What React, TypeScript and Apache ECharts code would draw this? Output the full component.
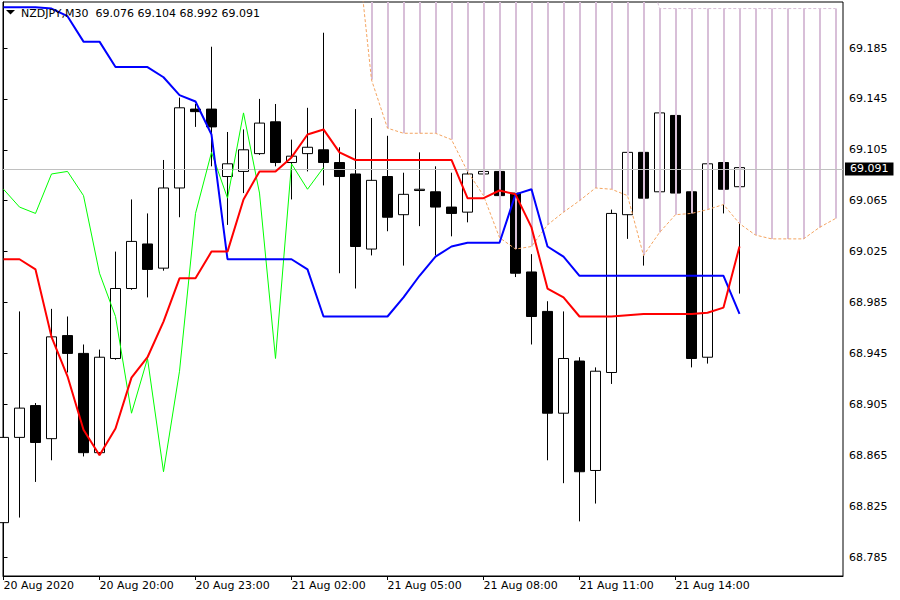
import React, { useEffect, useRef } from "react";
import * as echarts from "echarts";

const symbolName = "NZDJPY";
const timeframe = "M30";

// Candles (30-minute bars), index 0 = 20 Aug 2020 17:00
const opens = [
  68.812, 68.879, 68.904, 68.878, 68.959, 68.945, 68.867, 68.941, 68.996, 69.031,
  69.012, 69.075, 69.137, 69.137, 69.084, 69.088, 69.102, 69.127, 69.095, 69.102,
  69.105, 69.095, 69.086, 69.027, 69.084, 69.054, 69.073, 69.072, 69.060, 69.056,
  69.086, 69.088, 69.071, 69.009, 68.978, 68.898, 68.939, 68.853, 68.930, 69.054,
  69.103, 69.072, 69.132, 69.072, 68.942, 69.095, 69.076,
];
const highs = [
  68.880, 68.978, 68.906, 68.980, 68.974, 68.952, 68.948, 69.025, 69.066, 69.055,
  69.097, 69.146, 69.141, 69.186, 69.119, 69.121, 69.145, 69.141, 69.113, 69.138,
  69.197, 69.107, 69.137, 69.130, 69.116, 69.087, 69.103, 69.092, 69.087, 69.088,
  69.089, 69.089, 69.073, 69.023, 68.986, 68.978, 68.942, 68.934, 69.058, 69.104,
  69.104, 69.135, 69.133, 69.073, 69.095, 69.096, 69.104,
];
const lows = [
  68.785, 68.816, 68.844, 68.861, 68.930, 68.864, 68.865, 68.940, 68.995, 68.989,
  69.010, 69.052, 69.123, 69.092, 69.046, 69.071, 69.101, 69.092, 69.066, 69.088,
  69.077, 69.008, 68.996, 69.022, 69.041, 69.014, 69.045, 69.022, 69.037, 69.048,
  69.085, 69.068, 69.005, 68.952, 68.861, 68.843, 68.813, 68.827, 68.921, 69.035,
  69.014, 69.071, 69.070, 68.934, 68.937, 69.055, 68.992,
];
const closes = [
  68.879, 68.902, 68.875, 68.958, 68.945, 68.867, 68.942, 68.996, 69.033, 69.011,
  69.075, 69.138, 69.135, 69.123, 69.094, 69.105, 69.126, 69.095, 69.100, 69.107,
  69.095, 69.084, 69.029, 69.081, 69.052, 69.070, 69.074, 69.060, 69.055, 69.086,
  69.088, 69.069, 69.008, 68.974, 68.898, 68.941, 68.852, 68.931, 69.055, 69.103,
  69.067, 69.134, 69.071, 68.941, 69.094, 69.074, 69.091,
];

// Ichimoku lines
const tenkan = [
  69.019, 69.019, 69.011, 68.958, 68.927, 68.885, 68.865, 68.886, 68.926, 68.942,
  68.970, 69.004, 69.004, 69.025, 69.025, 69.066, 69.088, 69.088, 69.099, 69.117,
  69.121, 69.103, 69.097, 69.097, 69.097, 69.097, 69.097, 69.097, 69.097, 69.067,
  69.067, 69.073, 69.070, 69.044, 68.996, 68.989, 68.974, 68.974, 68.974, 68.975,
  68.976, 68.976, 68.976, 68.976, 68.977, 68.981, 69.029,
];
const kijun = [
  69.217, 69.217, 69.217, 69.216, 69.210, 69.190, 69.190, 69.170, 69.170, 69.170,
  69.162, 69.148, 69.143, 69.117, 69.019, 69.019, 69.019, 69.019, 69.019, 69.011,
  68.974, 68.974, 68.974, 68.974, 68.974, 68.989, 69.006, 69.021, 69.029, 69.032,
  69.032, 69.032, 69.070, 69.074, 69.029, 69.021, 69.006, 69.006, 69.006, 69.006,
  69.006, 69.006, 69.006, 69.006, 69.006, 69.006, 68.976,
];
const spanStart = 22; // first bar index of the (forward-shifted) senkou spans
const senkouA = [
  69.278, 69.160, 69.122, 69.118, 69.118, 69.118, 69.113, 69.088, 69.069, 69.036,
  69.027, 69.029, 69.046, 69.056, 69.065, 69.075, 69.074, 69.069, 69.022, 69.040,
  69.054, 69.055, 69.058, 69.062, 69.047, 69.038, 69.035, 69.035, 69.035, 69.044,
  69.051,
];
const senkouB = [
  69.260, 69.260, 69.260, 69.260, 69.260, 69.260, 69.260, 69.260, 69.260, 69.260,
  69.260, 69.260, 69.260, 69.260, 69.260, 69.260, 69.260, 69.260, 69.260, 69.216,
  69.216, 69.216, 69.216, 69.216, 69.216, 69.216, 69.216, 69.216, 69.216, 69.216,
  69.216,
];
const chikouShift = 26;

const xTickIndex = [0, 6, 12, 18, 24, 30, 36, 42];
const xTickLabels = [
  "20 Aug 2020", "20 Aug 20:00", "20 Aug 23:00", "21 Aug 02:00",
  "21 Aug 05:00", "21 Aug 08:00", "21 Aug 11:00", "21 Aug 14:00",
];
const yTickValues = [
  68.785, 68.825, 68.865, 68.905, 68.945, 68.985, 69.025, 69.065, 69.105, 69.145, 69.185,
];

const FONT = "DejaVu Sans";

export default function App() {
  const ref = useRef<HTMLDivElement>(null);

  useEffect(() => {
    if (!ref.current) return;
    const chart = echarts.init(ref.current, undefined, { renderer: "svg" });
    const n = closes.length;
    const last = n - 1;
    const candleData = closes.map((c, i) => [i, opens[i], c, lows[i], highs[i]]);
    const tenkanData = tenkan.map((v, i) => [i, v]);
    const kijunData = kijun.map((v, i) => [i, v]);
    const chikouData = closes.slice(chikouShift).map((v, i) => [i, v]);
    const spanAData = senkouA.map((v, i) => [spanStart + i, v]);
    const spanBData = senkouB.map((v, i) => [spanStart + i, v]);
    const cloudData = senkouA.map((v, i) => [spanStart + i, v, senkouB[i]]);

    const header =
      `${symbolName},${timeframe}  ${opens[last].toFixed(3)} ${highs[last].toFixed(3)} ` +
      `${lows[last].toFixed(3)} ${closes[last].toFixed(3)}`;

    chart.setOption({
      animation: false,
      backgroundColor: "#ffffff",
      grid: {
        left: 3,
        right: 57,
        top: 2,
        bottom: 24,
        show: true,
        borderColor: "#000",
        borderWidth: 1,
        backgroundColor: "#fff",
      },
      xAxis: {
        type: "value",
        min: -0.03125,
        max: 52.46875,
        axisLine: { show: true, lineStyle: { color: "#000", width: 1 } },
        axisTick: {
          show: true,
          customValues: xTickIndex,
          length: 4,
          lineStyle: { color: "#000" },
        },
        axisLabel: {
          customValues: xTickIndex,
          formatter: (v: number) => {
            const idx = xTickIndex.indexOf(Math.round(v));
            return idx >= 0 ? xTickLabels[idx] : "";
          },
          align: "left",
          margin: 4,
          color: "#000",
          fontFamily: FONT,
          fontSize: 11,
        },
        splitLine: { show: false },
      },
      yAxis: {
        type: "value",
        position: "right",
        min: 68.77007,
        max: 69.22115,
        axisLine: { show: true, lineStyle: { color: "#000", width: 1 } },
        axisTick: {
          show: true,
          customValues: yTickValues,
          length: 4,
          lineStyle: { color: "#000" },
        },
        axisLabel: {
          customValues: yTickValues,
          formatter: (v: number) => v.toFixed(3),
          margin: 6,
          color: "#000",
          fontFamily: FONT,
          fontSize: 11,
        },
        splitLine: { show: false },
      },
      graphic: [
        {
          type: "polygon",
          z: 100,
          shape: { points: [[6, 10], [15, 10], [10.5, 14.5]] },
          style: { fill: "#000" },
        },
        {
          type: "text",
          z: 100,
          x: 21,
          y: 13,
          style: {
            text: header,
            fontFamily: FONT,
            fontSize: 11,
            fill: "#000",
            verticalAlign: "middle",
          },
        },
      ],
      series: [
        {
          type: "candlestick",
          data: candleData,
          encode: { x: 0, y: [1, 2, 3, 4] },
          barWidth: 10,
          z: 2,
          itemStyle: {
            color: "#fff",
            color0: "#000",
            borderColor: "#000",
            borderColor0: "#000",
            borderWidth: 1,
          },
          markLine: {
            silent: true,
            symbol: ["none", "none"],
            animation: false,
            lineStyle: { color: "#C0C0C0", width: 1, type: "solid" },
            label: {
              show: true,
              position: "end",
              distance: 2,
              formatter: closes[last].toFixed(3),
              color: "#fff",
              backgroundColor: "#000",
              padding: [1, 5, 1, 5],
              fontFamily: FONT,
              fontSize: 11,
            },
            data: [{ yAxis: closes[last] }],
          },
        },
        {
          type: "custom",
          clip: true,
          z: 3,
          encode: { x: 0, y: [1, 2] },
          data: cloudData,
          renderItem: (params: any, api: any) => {
            const k = api.value(0);
            const a = api.value(1);
            const b = api.value(2);
            const p1 = api.coord([k, a]);
            const p2 = api.coord([k, b]);
            const x = Math.round(p1[0]);
            return {
              type: "line",
              shape: { x1: x, y1: p1[1], x2: x, y2: p2[1] },
              style: { stroke: b >= a ? "#D8BFD8" : "#F4A460", lineWidth: 2 },
            };
          },
        },
        {
          type: "line",
          data: spanAData,
          symbol: "none",
          z: 4,
          lineStyle: { color: "#F4A460", width: 1, type: [3, 2] },
        },
        {
          type: "line",
          data: spanBData,
          symbol: "none",
          z: 4,
          lineStyle: { color: "#D8BFD8", width: 1, type: [3, 2] },
        },
        {
          type: "line",
          data: chikouData,
          symbol: "none",
          z: 5,
          lineStyle: { color: "#00FF00", width: 1 },
        },
        {
          type: "line",
          data: kijunData,
          symbol: "none",
          z: 6,
          lineStyle: { color: "#0000FF", width: 2 },
        },
        {
          type: "line",
          data: tenkanData,
          symbol: "none",
          z: 7,
          lineStyle: { color: "#FF0000", width: 2 },
        },
      ],
    });

    return () => chart.dispose();
  }, []);

  return (
    <div
      ref={ref}
      style={{ position: "fixed", left: 0, top: 0, width: 900, height: 600, background: "#fff" }}
    />
  );
}
